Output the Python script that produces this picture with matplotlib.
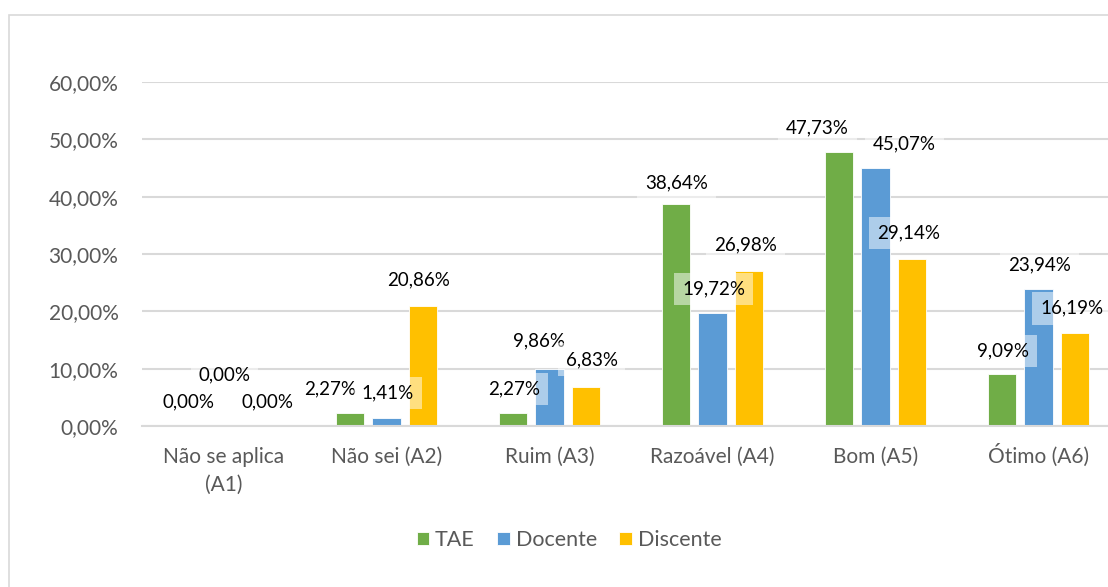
import numpy as np
import matplotlib.pyplot as plt
import matplotlib.transforms as mtransforms
from matplotlib.patches import Rectangle
from matplotlib.ticker import FuncFormatter

plt.rcParams['font.family'] = ['Lato', 'DejaVu Sans']

# Data (percent)
categories = ['Não se aplica\n(A1)', 'Não sei (A2)', 'Ruim (A3)',
              'Razoável (A4)', 'Bom (A5)', 'Ótimo (A6)']
series_names = ['TAE', 'Docente', 'Discente']
tae = [0.00, 2.27, 2.27, 38.64, 47.73, 9.09]
docente = [0.00, 1.41, 9.86, 19.72, 45.07, 23.94]
discente = [0.00, 20.86, 6.83, 26.98, 29.14, 16.19]

colors = ['#70AD47', '#5B9BD5', '#FFC000']

# where the data labels were dragged to (pixels from bar top centre, up is +)
label_offsets = [
    [(1, 24), (-20, 24), (1, 24), (0, 22), (-22, 24), (1, 23)],
    [(1, 51), (1, 25), (-10, 29), (1, 24), (29, 24), (1, 24)],
    [(8, 24), (-4, 27), (6, 27), (-3, 26), (-3, 26), (-3, 25)],
]

W, H = 1108, 587
fig = plt.figure(figsize=(W / 100, H / 100), dpi=100)

# outer chart border
fig.patches.append(Rectangle((9 / W, -0.05), 1.1, 1 - 15 / H + 0.05,
                             transform=fig.transFigure, fill=False,
                             edgecolor='#d9d9d9', linewidth=1.2))

ax = fig.add_axes([142 / W, 1 - 426 / H, (1120 - 142) / W, (426 - 82) / H])

x = np.arange(len(categories))
width = 0.172
step = 0.221

for k, (name, vals) in enumerate(zip(series_names, [tae, docente, discente])):
    pos = x + (k - 1) * step
    ax.bar(pos, vals, width, color=colors[k], edgecolor='white',
           linewidth=0.6, label=name, zorder=2)
    for i, v in enumerate(vals):
        dx, dy = label_offsets[k][i]
        ax.annotate(f'{v:.2f}%'.replace('.', ','), (pos[i], v),
                    xytext=(dx, dy), textcoords='offset pixels',
                    ha='center', va='center', fontsize=13.5, color='black',
                    zorder=4,
                    bbox=dict(boxstyle='square,pad=0.42', fc='white',
                              ec='none', alpha=0.5))

ax.set_xlim(-0.5, 5.5)
ax.set_ylim(0, 60)
ax.set_yticks(np.arange(0, 61, 10))
ax.yaxis.set_major_formatter(FuncFormatter(lambda v, p: f'{v:.2f}%'.replace('.', ',')))
ax.set_xticks(x)
ax.set_xticklabels([])
ax.tick_params(axis='y', length=0, pad=17, labelsize=15, labelcolor='#595959')
ax.tick_params(axis='x', length=0)

# category labels line by line, on a common baseline (Excel style)
base = mtransforms.blended_transform_factory(ax.transData, ax.transAxes)
for i, lab in enumerate(categories):
    for j, line in enumerate(lab.split('\n')):
        tr = mtransforms.offset_copy(base, fig=fig, y=-(37 + 28 * j), units='dots')
        ax.text(x[i], 0, line, transform=tr, ha='center', va='baseline',
                fontsize=15, color='#595959', clip_on=False)

ax.grid(axis='y', color='#d9d9d9', linewidth=1.5, zorder=0)
ax.set_axisbelow(True)
for s in ['top', 'right', 'left']:
    ax.spines[s].set_visible(False)
ax.spines['bottom'].set_color('#d9d9d9')
ax.spines['bottom'].set_linewidth(1.5)

fig.legend(loc='center', bbox_to_anchor=(569 / W, 1 - 540 / H), ncol=3,
           frameon=False, fontsize=15.5, handlelength=0.6, handleheight=0.6,
           handletextpad=0.25, columnspacing=1.05, labelcolor='#595959')

fig.savefig('out.png', dpi=100)
